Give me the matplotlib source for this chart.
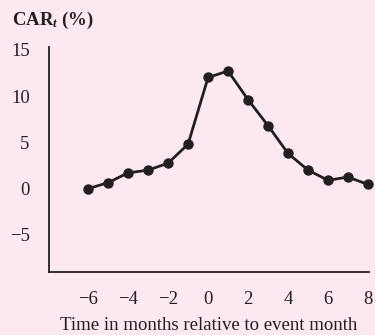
import matplotlib
matplotlib.use("Agg")
import matplotlib.pyplot as plt

plt.rcParams['font.family'] = ['Liberation Serif', 'DejaVu Serif']
plt.rcParams['axes.unicode_minus'] = True
plt.rcParams['mathtext.fontset'] = 'custom'
plt.rcParams['mathtext.rm'] = 'Liberation Serif:bold'
plt.rcParams['mathtext.it'] = 'Liberation Serif:italic:bold'
plt.rcParams['mathtext.bf'] = 'Liberation Serif:bold'

months = [-6, -5, -4, -3, -2, -1, 0, 1, 2, 3, 4, 5, 6, 7, 8]
car = [0.0, 0.65, 1.7, 2.0, 2.75, 4.8, 12.0, 12.7, 9.6, 6.8, 3.8, 2.0, 0.9, 1.25, 0.45]
xticks = [-6, -4, -2, 0, 2, 4, 6, 8]
yticks = [-5, 0, 5, 10, 15]

bg = '#fce8f1'
ink = '#231f20'

fig = plt.figure(figsize=(3.75, 3.35), dpi=100, facecolor=bg)
ax = fig.add_axes([0.131, 0.188, 0.853, 0.672], facecolor=bg)

ax.plot(months, car, '-o', color=ink, linewidth=2.0, markersize=6.5, clip_on=False)

ax.set_xlim(-7.95, 8.05)
ax.set_ylim(-9.0, 15.3)
ax.set_xticks(xticks)
ax.set_yticks(yticks)
ax.tick_params(length=0, labelsize=13.5, colors=ink)
ax.tick_params(axis='x', pad=14)
ax.tick_params(axis='y', pad=14)
for s in ['top', 'right']:
    ax.spines[s].set_visible(False)
for s in ['left', 'bottom']:
    ax.spines[s].set_color(ink)
    ax.spines[s].set_linewidth(1.3)

ax.set_xlabel('Time in months relative to event month', fontsize=13.5, color=ink, labelpad=6)
fig.text(0.032, 0.94, r'CAR$_{\mathit{t}}$ (%)', fontsize=13.5, fontweight='bold', color=ink,
         ha='left', va='center')

fig.savefig('out.png', dpi=100, facecolor=bg)
